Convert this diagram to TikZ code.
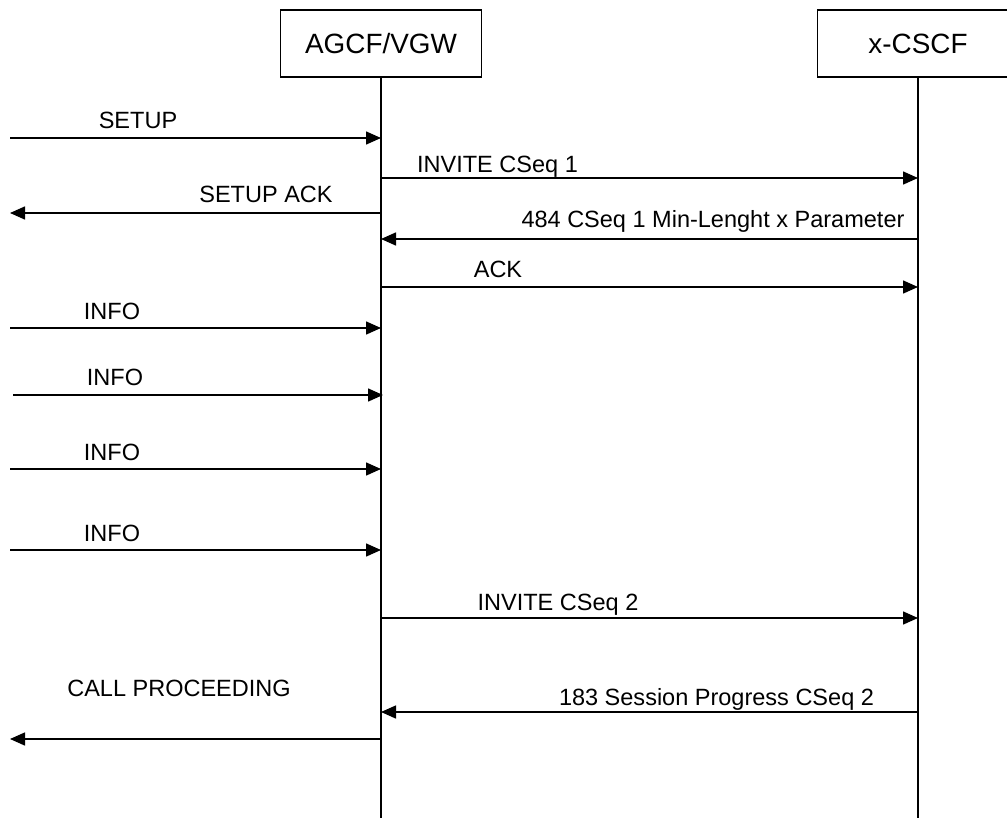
\documentclass[tikz,border=0pt]{standalone}
\usepackage{fontspec}
\setmainfont{Liberation Sans}
\usetikzlibrary{arrows.meta}
\tikzset{
  entity/.style={draw,line width=0.75bp,minimum width=100.5bp,minimum height=33.5bp,
    inner sep=0pt,font=\fontsize{14}{16}\selectfont},
  lifeline/.style={line width=1bp},
  msg/.style={line width=0.75bp,-{Triangle[length=7.5bp,width=6.5bp]}},
  lbl/.style={anchor=base,inner sep=0pt,font=\fontsize{11.8}{14}\selectfont}
}
\begin{document}
\begin{tikzpicture}[x=0.5bp,y=-0.5bp]
\path[use as bounding box,clip] (0,0) rectangle (1007,818);
\node[entity] (agcf) at (381,43.5) {AGCF/VGW};
\node[entity] (cscf) at (918,43.5) {x-CSCF};
\coordinate (agcfend) at (381,818);
\coordinate (cscfend) at (918,818);
\draw[lifeline] (agcf.south) -- (agcfend);
\draw[lifeline] (cscf.south) -- (cscfend);

\coordinate (u1) at (10,138);
\coordinate (u2) at (10,213);
\coordinate (u3) at (10,328);
\coordinate (u4) at (13,395);
\coordinate (u5) at (10,469);
\coordinate (u6) at (10,550);
\coordinate (u7) at (10,739);
\coordinate (m1) at (agcf.center |- 0,178);
\coordinate (m2) at (agcf.center |- 0,239);
\coordinate (m3) at (agcf.center |- 0,287);
\coordinate (m4) at (agcf.center |- 0,618);
\coordinate (m5) at (agcf.center |- 0,712);

\draw[msg] (u1) -- (u1 -| agcf);
\draw[msg] (m1) -- (m1 -| cscf);
\draw[msg] (u2 -| agcf) -- (u2);
\draw[msg] (m2 -| cscf) -- (m2);
\draw[msg] (m3) -- (m3 -| cscf);
\draw[msg] (u3) -- (u3 -| agcf);
\draw[msg] (u4) -- ([xshift=1bp]u4 -| agcf);
\draw[msg] (u5) -- (u5 -| agcf);
\draw[msg] (u6) -- (u6 -| agcf);
\draw[msg] (m4) -- (m4 -| cscf);
\draw[msg] (m5 -| cscf) -- (m5);
\draw[msg] (u7 -| agcf) -- (u7);

\node[lbl] (setup) at (138,128) {SETUP};
\node[lbl] (invite1) at (497.5,172) {INVITE CSeq 1};
\node[lbl] (setupack) at (266,202) {SETUP ACK};
\node[lbl] (err484) at (713,227) {484 CSeq 1 Min-Lenght x Parameter};
\node[lbl] (ack) at (498,277) {ACK};
\node[lbl] (info1) at (112,319) {INFO};
\node[lbl] (info2) at (115,385) {INFO};
\node[lbl] (info3) at (112,460) {INFO};
\node[lbl] (info4) at (112,541) {INFO};
\node[lbl] (invite2) at (558,610) {INVITE CSeq 2};
\node[lbl] (callproc) at (179,696) {CALL PROCEEDING};
\node[lbl] (prog183) at (716.5,705) {183 Session Progress CSeq 2};
\end{tikzpicture}
\end{document}
